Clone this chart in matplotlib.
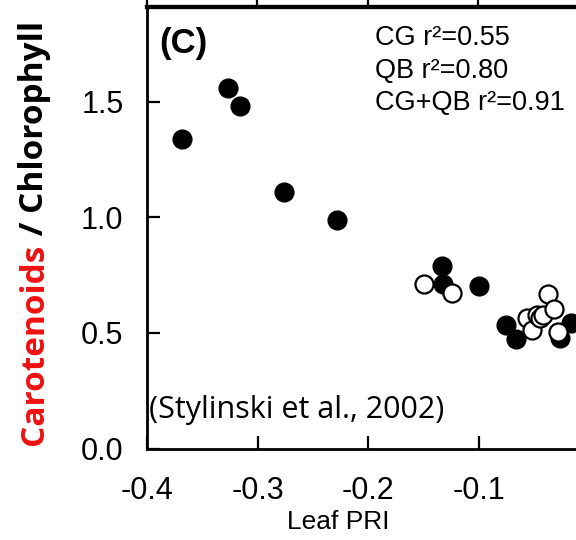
import numpy as np
import matplotlib.pyplot as plt

# leaf PRI vs carotenoid/chlorophyll ratio
cg_pri = [-0.368, -0.327, -0.316, -0.276, -0.228, -0.133, -0.132, -0.100,
          -0.075, -0.066, -0.026, -0.016]
cg_ratio = [1.339, 1.561, 1.481, 1.109, 0.988, 0.791, 0.711, 0.703,
            0.534, 0.475, 0.478, 0.543]
qb_pri = [-0.149, -0.124, -0.056, -0.052, -0.047, -0.044, -0.042, -0.037,
          -0.032, -0.028]
qb_ratio = [0.711, 0.671, 0.564, 0.513, 0.577, 0.563, 0.577, 0.668,
            0.603, 0.505]

x_ticks = [-0.4, -0.3, -0.2, -0.1]
x_labels = ['-0.4', '-0.3', '-0.2', '-0.1']
y_ticks = [0.0, 0.5, 1.0, 1.5]
y_labels = ['0.0', '0.5', '1.0', '1.5']
stats = ["CG r\u00b2=0.55", "QB r\u00b2=0.80", "CG+QB r\u00b2=0.91"]

plt.rcParams['font.family'] = ['Liberation Sans', 'DejaVu Sans']

fig = plt.figure(figsize=(5.76, 5.4), dpi=100)
ax = fig.add_axes([147 / 576, 91.5 / 540, 552.5 / 576, 441.5 / 540])

ax.plot(cg_pri, cg_ratio, 'o', color='black', markersize=13.5, zorder=3)
ax.plot(qb_pri, qb_ratio, 'o', markerfacecolor='white', markeredgecolor='black',
        markeredgewidth=1.6, markersize=13, zorder=3)

ax.set_xlim(-0.4, 0.1)
ax.set_ylim(0, 1.91)
ax.set_xticks(x_ticks)
ax.set_yticks(y_ticks)
ax.set_xticklabels(x_labels)
ax.set_yticklabels(y_labels)
ax.tick_params(axis='both', direction='in', length=9.5, width=1.6,
               labelsize=22)
ax.tick_params(axis='x', pad=20)
ax.tick_params(axis='y', pad=17)
for s in ax.spines.values():
    s.set_linewidth(2)
ax.spines['top'].set_linewidth(3)

top = ax.secondary_xaxis('top')
top.set_xticks(x_ticks)
top.tick_params(direction='out', length=5, width=1.6, labeltop=False)
top.spines['top'].set_linewidth(3)

ax.set_xlabel('Leaf PRI', fontsize=19)
ax.xaxis.set_label_coords((338 - 147) / 552.5, -(522 - 448.5) / 441.5)
ax.xaxis.label.set_va('center')

ax.text(-0.389, 1.75, '(C)', fontsize=25, fontweight='bold', va='center')
for i, s in enumerate(stats):
    ax.text(-0.194, (448.5 - (38 + 32.5 * i)) / 231.2, s, fontsize=19.5,
            va='center')
ax.text(-0.398, 0.165, '(Stylinski et al., 2002)', fontsize=22,
        family=['Open Sans', 'DejaVu Sans'], va='center')

# two-colour y label
t1 = fig.text(35 / 576, 1 - 445 / 540, 'Carotenoids', color='#ee1111',
              rotation=90, fontsize=24, fontweight='bold',
              family=['Open Sans', 'DejaVu Sans'],
              ha='center', va='bottom')
fig.canvas.draw()
bb = t1.get_window_extent()
fig.text(35 / 576, bb.y1 / fig.bbox.height, ' / Chlorophyll', color='black',
         rotation=90, fontsize=24, fontweight='bold',
         family=['Open Sans', 'DejaVu Sans'],
         ha='center', va='bottom')

fig.savefig('out.png', dpi=100)
